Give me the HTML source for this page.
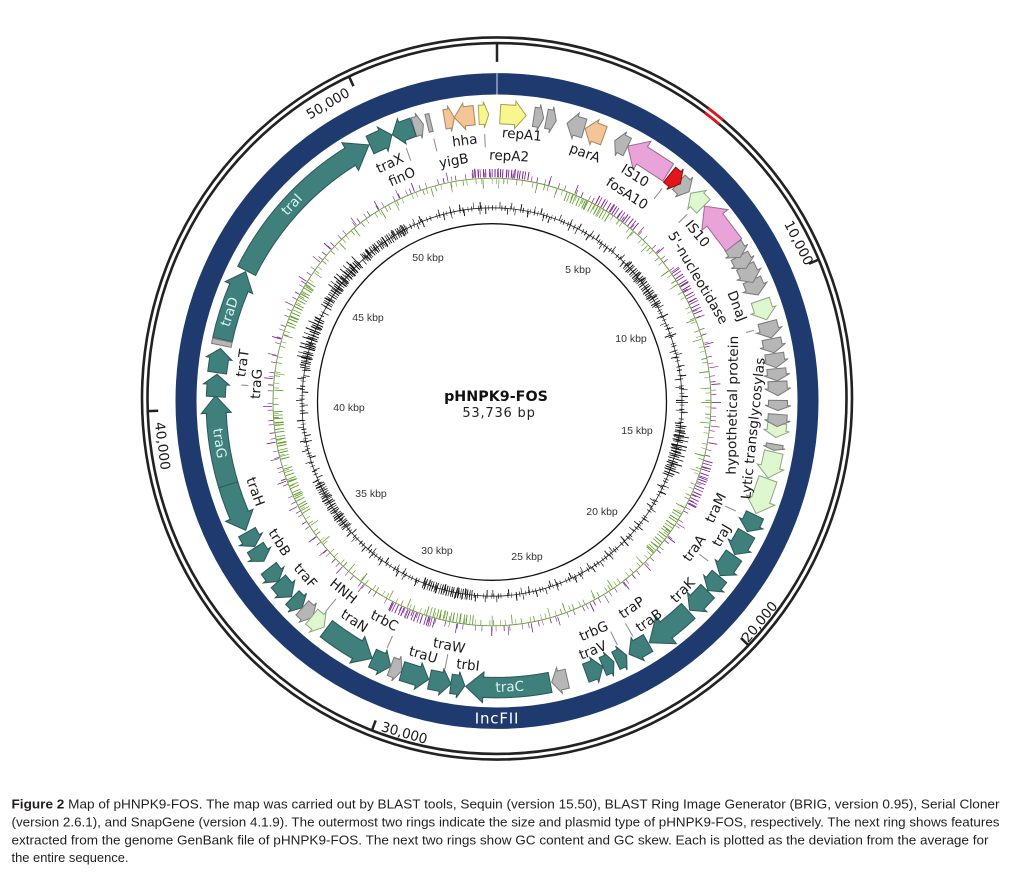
<!DOCTYPE html>
<html>
<head>
<meta charset="utf-8">
<style>
html,body{margin:0;padding:0;background:#fff;}
svg{display:block;}
.t{fill:#3f7f7c;stroke:#2b5957;stroke-width:1;}
.g{fill:#b6b6b6;stroke:#7a7a7a;stroke-width:1;}
.lg{fill:#dff7cf;stroke:#8ea582;stroke-width:1;}
.pk{fill:#e9a3d8;stroke:#9c6a92;stroke-width:1;}
.rd{fill:#e2151b;stroke:#8a1010;stroke-width:1;}
.or{fill:#f4c596;stroke:#a98560;stroke-width:1;}
.ye{fill:#f9f68e;stroke:#a5a25a;stroke-width:1;}
.lb{font-family:"DejaVu Sans","Liberation Sans",sans-serif;font-size:13.5px;fill:#1a1a1a;text-anchor:middle;dominant-baseline:central;}
.il{font-family:"DejaVu Sans","Liberation Sans",sans-serif;font-size:13.5px;fill:#d8f3f2;text-anchor:middle;dominant-baseline:central;}
.rl{font-family:"DejaVu Sans","Liberation Sans",sans-serif;font-size:13.5px;fill:#1a1a1a;text-anchor:middle;dominant-baseline:central;}
.kb{font-family:"Liberation Sans",sans-serif;font-size:10.5px;fill:#333;text-anchor:middle;dominant-baseline:central;}
.ld{stroke:#8a8a8a;stroke-width:1;}
.cap{font-family:"Liberation Sans",sans-serif;font-size:13px;fill:#231f20;}
.bc{fill:none;stroke:#111;stroke-width:10;stroke-dasharray:0.8 1.2 0.6 1.8 1 0.9 0.7 2.1 0.9 1.3 0.6 1.6 1.1 1 0.7 2.4 0.9 1.1 0.8 1.7 0.6 1.4 1 2 0.7 1.2 0.9 1.5 0.6 2.2 1 1.1 0.8 1.9 0.7 1.3 0.9 1.6 0.6 2 1 1.2 0.8 3000;}
.bt{fill:none;stroke:#111;stroke-width:16;stroke-dasharray:0.9 3 0.7 4.5 1 2.5 0.8 5 0.9 3.5 0.7 4 1 6 0.8 3000;}
.pc{fill:none;stroke:#7d1e99;stroke-width:9;stroke-dasharray:0.9 2 0.7 2.8 1 1.6 0.8 3.2 0.9 2.2 0.7 2.6 1 1.8 0.8 3.4 0.9 2.1 0.7 2.9 1 1.7 0.8 3 0.9 2.4 0.7 2.6 0.9 3000;}
.gc{fill:none;stroke:#5e9e2a;stroke-width:9;stroke-dasharray:0.9 2 0.7 2.8 1 1.6 0.8 3.2 0.9 2.2 0.7 2.6 1 1.8 0.8 3.4 0.9 2.1 0.7 2.9 1 1.7 0.8 3 0.9 2.4 0.7 2.6 0.9 3000;}
</style>
</head>
<body>
<svg width="1017" height="890" viewBox="0 0 1017 890" xmlns="http://www.w3.org/2000/svg">
<defs>
<path id="s6" d="M-3,-289.5H0V-292L3,-281L0,-270V-272.5H-3Z"/>
<path id="s10" d="M-5,-290.5H0V-294L5,-281L0,-268V-271.5H-5Z"/>
<path id="s12" d="M-6,-290.5H0V-294L6,-281L0,-268V-271.5H-6Z"/>
<path id="s14" d="M-7,-290.5H0V-294L7,-281L0,-268V-271.5H-7Z"/>
<path id="s16" d="M-8,-290.5H0V-294L8,-281L0,-268V-271.5H-8Z"/>
<path id="s18" d="M-9,-290.5H0V-294L9,-281L0,-268V-271.5H-9Z"/>
<path id="s20" d="M-10,-290.5H0V-294L10,-281L0,-268V-271.5H-10Z"/>
<path id="s22" d="M-11,-290.5H1V-294L11,-281L1,-268V-271.5H-11Z"/>
<path id="s24" d="M-12,-290.5H2V-294L12,-281L2,-268V-271.5H-12Z"/>
<path id="s26" d="M-13,-290.5H2V-294.5L13,-281L2,-267.5V-271.5H-13Z"/>
<path id="s28" d="M-14,-290.5H3V-294.5L14,-281L3,-267.5V-271.5H-14Z"/>
<path id="s36" d="M-18,-290.5H4V-296L18,-281L4,-266V-271.5H-18Z"/>
<path id="s48" d="M-24,-291H7V-297.5L24,-281L7,-264.5V-271H-24Z"/>
</defs>

<!-- OUTER SIZE RING -->
<g transform="translate(497,398.5) scale(1,1.017)">
  <circle r="355" fill="none" stroke="#222" stroke-width="2.6"/>
  <circle r="349.5" fill="none" stroke="#222" stroke-width="2.6"/>
  <circle r="355" fill="none" stroke="#e0151b" stroke-width="2.8" stroke-dasharray="18.6 3000" transform="rotate(-53.5)"/>
  <circle r="349.5" fill="none" stroke="#e0151b" stroke-width="2.8" stroke-dasharray="18.3 3000" transform="rotate(-53.5)"/>
  <g stroke="#222" stroke-width="2.5">
    <line x1="0" y1="-349" x2="0" y2="-331"/>
    <line x1="0" y1="-349" x2="0" y2="-339" transform="rotate(66.99)"/>
    <line x1="0" y1="-349" x2="0" y2="-339" transform="rotate(133.98)"/>
    <line x1="0" y1="-349" x2="0" y2="-339" transform="rotate(200.97)"/>
    <line x1="0" y1="-349" x2="0" y2="-339" transform="rotate(267.96)"/>
    <line x1="0" y1="-349" x2="0" y2="-339" transform="rotate(334.95)"/>
  </g>
</g>

<!-- BRIG RINGS -->
<g transform="translate(492,402) scale(1,1.022)">
  <!-- GC skew -->
  <circle r="219" fill="none" stroke="#6b9a3a" stroke-width="0.9"/>
  <circle r="216" fill="none" stroke="#5e9e2a" stroke-width="5" stroke-dasharray="0.6 4 0.5 6.5 0.8 3 0.6 8.5 0.7 5 0.5 10"/>
  <circle r="213.5" fill="none" stroke="#5e9e2a" stroke-width="9" stroke-dasharray="0.8 19 0.7 31 0.9 15 0.6 37"/>
  <circle r="222" fill="none" stroke="#7d1e99" stroke-width="5" stroke-dasharray="0.6 5 0.8 7.5 0.5 3.5 0.7 9.5 0.6 6 0.5 12"/>
  <circle r="224.5" fill="none" stroke="#7d1e99" stroke-width="9" stroke-dasharray="0.8 23 0.6 16 0.9 35 0.7 27"/>
  <circle r="224" fill="none" stroke="#7d1e99" stroke-width="8" transform="rotate(265)" stroke-dasharray="1 1.5 0.8 2 1.2 1 0.7 2.5 1 1.2 0.9 3 1.1 1.4 0.8 2 1 1.6 0.7 2.2 1 1.3 0.9 2.8 1.2 1 0.8 2 1 1.5 0.7 3 1 1.2 0.9 2 1 1.5 0.8 2.4 1 3000"/>
  <circle r="224" class="pc" transform="rotate(-35)"/>
  <circle r="224" class="pc" transform="rotate(15)"/>
  <circle r="224" class="pc" transform="rotate(105)"/>
  <circle r="224" class="pc" transform="rotate(-62)"/>
  <circle r="214" class="gc" transform="rotate(165)"/>
  <circle r="214" class="gc" transform="rotate(150)"/>
  <circle r="214" class="gc" transform="rotate(95)"/>
  <circle r="214" class="gc" transform="rotate(-70)"/>
  <circle r="214" class="gc" transform="rotate(30)"/>
  <circle r="214" class="gc" transform="rotate(200)"/>
  <!-- GC content -->
  <circle r="190" fill="none" stroke="#222" stroke-width="0.8"/>
  <circle r="190" fill="none" stroke="#111" stroke-width="5" stroke-dasharray="0.6 2.2 0.5 3.6 0.8 2.7 0.5 5.4 0.7 2.5 0.9 4.3 0.5 3.1 0.7 6.2 0.6 1.9 0.8 3.8"/>
  <circle r="193" fill="none" stroke="#111" stroke-width="6" stroke-dasharray="0.7 9 0.9 13 0.6 6 1 19 0.7 11"/>
  <circle r="187" fill="none" stroke="#111" stroke-width="6" stroke-dasharray="0.8 7 0.6 12 1 15 0.7 5 0.9 21"/>
  <circle r="190" class="bc" transform="rotate(190)"/>
  <circle r="190" class="bc" transform="rotate(210)"/>
  <circle r="190" class="bc" transform="rotate(228)"/>
  <circle r="190" class="bc" transform="rotate(7)"/>
  <circle r="190" class="bc" transform="rotate(96)"/>
  <circle r="190" class="bc" transform="rotate(-45)"/>
  <circle r="190" class="bc" transform="rotate(140)"/>
  <circle r="192" class="bt" transform="rotate(193)"/>
  <circle r="192" class="bt" transform="rotate(10)"/>
  <circle r="192" class="bt" transform="rotate(215)"/>
  <!-- inner circle -->
  <circle r="174.5" fill="none" stroke="#111" stroke-width="1.3"/>
</g>

<!-- kbp labels -->
<text class="kb" x="428" y="258">50 kbp</text>
<text class="kb" x="578" y="270">5 kbp</text>
<text class="kb" x="368" y="318">45 kbp</text>
<text class="kb" x="631" y="339">10 kbp</text>
<text class="kb" x="349" y="408">40 kbp</text>
<text class="kb" x="637" y="431">15 kbp</text>
<text class="kb" x="371" y="494">35 kbp</text>
<text class="kb" x="602" y="512">20 kbp</text>
<text class="kb" x="437" y="551">30 kbp</text>
<text class="kb" x="527" y="557">25 kbp</text>

<!-- center title -->
<text x="496" y="397" font-family="DejaVu Sans, Liberation Sans, sans-serif" font-weight="bold" font-size="14.3" fill="#111" text-anchor="middle" dominant-baseline="central">pHNPK9-FOS</text>
<text x="499" y="413.5" font-family="DejaVu Sans, Liberation Sans, sans-serif" font-size="13" letter-spacing="0.8" fill="#222" text-anchor="middle" dominant-baseline="central">53,736 bp</text>

<!-- GENE / NAVY GROUP -->
<g transform="translate(497,401) scale(1,1.02)">
  <!-- navy band -->
  <circle r="311" fill="none" stroke="#1e3a6e" stroke-width="21"/>
  <line x1="0" y1="-300.5" x2="0" y2="-321.5" stroke="#b9c3d6" stroke-width="1.2"/>
  <text x="0" y="311" font-family="DejaVu Sans, Liberation Sans, sans-serif" font-size="15" letter-spacing="0.8" fill="#fff" text-anchor="middle" dominant-baseline="central">IncFII</text>

  <!-- size labels -->
  <text class="rl" transform="rotate(329.9)" x="0" y="-336.5">50,000</text>
  <text class="rl" transform="rotate(62.8)" x="0" y="-338.6">10,000</text>
  <text class="rl" transform="rotate(-50.5)" x="0" y="341">20,000</text>
  <text class="rl" transform="rotate(15.9)" x="0" y="339">30,000</text>
  <text class="rl" transform="rotate(82.5)" x="0" y="338">40,000</text>

  <!-- big arrows -->
  <!-- traD -->
  <circle r="281" fill="none" stroke="#2b5957" stroke-width="21" stroke-dasharray="53.9 3000" transform="rotate(192.3)"/>
  <circle r="281" fill="none" stroke="#3f7f7c" stroke-width="19" stroke-dasharray="53.9 3000" transform="rotate(192.5)"/>
  <path class="t" d="M-0.5,-290.5H0V-296L17,-281L0,-266V-271.5H-0.5" transform="rotate(293.3)"/>
  <!-- traI -->
  <circle r="281" fill="none" stroke="#2b5957" stroke-width="21" stroke-dasharray="155 3000" transform="rotate(206.9)"/>
  <circle r="281" fill="none" stroke="#3f7f7c" stroke-width="19" stroke-dasharray="155 3000" transform="rotate(207.1)"/>
  <path class="t" d="M-0.5,-290.5H0V-297L22,-281L0,-265V-271.5H-0.5" transform="rotate(328.5)"/>
  <!-- traG / traH -->
  <circle r="281" fill="none" stroke="#2b5957" stroke-width="21" stroke-dasharray="103.5 3000" transform="rotate(156.5)"/>
  <circle r="281" fill="none" stroke="#3f7f7c" stroke-width="19" stroke-dasharray="103.5 3000" transform="rotate(156.5)"/>
  <path class="t" d="M-0.5,-290.5H0V-296L17,-281L0,-266V-271.5H-0.5" transform="rotate(267.6)"/>
  <path class="t" d="M0.5,-290.5H0V-296L-16,-281L0,-266V-271.5H0.5" transform="rotate(246.5)"/>
  <line x1="0" y1="-291" x2="0" y2="-271" stroke="#2b5957" stroke-width="1" transform="rotate(253)"/>
  <!-- traN -->
  <circle r="281" fill="none" stroke="#2b5957" stroke-width="21" stroke-dasharray="37.8 3000" transform="rotate(119.8)"/>
  <circle r="281" fill="none" stroke="#3f7f7c" stroke-width="19" stroke-dasharray="37.8 3000" transform="rotate(119.6)"/>
  <path class="t" d="M0.5,-290.5H0V-296L-17,-281L0,-266V-271.5H0.5" transform="rotate(209.8)"/>
  <!-- traC -->
  <circle r="281" fill="none" stroke="#2b5957" stroke-width="21" stroke-dasharray="67.7 3000" transform="rotate(79)"/>
  <circle r="281" fill="none" stroke="#3f7f7c" stroke-width="19" stroke-dasharray="67.7 3000" transform="rotate(79.2)"/>
  <path class="t" d="M-0.5,-290.5H0V-296L17.6,-281L0,-266V-271.5H-0.5" transform="rotate(182.8)"/>
  <!-- traB -->
  <circle r="281" fill="none" stroke="#2b5957" stroke-width="21" stroke-dasharray="29.4 3000" transform="rotate(47)"/>
  <circle r="281" fill="none" stroke="#3f7f7c" stroke-width="19" stroke-dasharray="29.4 3000" transform="rotate(47.2)"/>
  <path class="t" d="M-0.5,-290.5H0V-298L21,-281L0,-264V-271.5H-0.5" transform="rotate(143)"/>

  <!-- small arrows -->
  <rect class="g" x="-2.5" y="-291" width="5" height="20" transform="rotate(281.7)"/>
  <use href="#s24" class="t" transform="rotate(278.1)"/>
  <use href="#s22" class="t" transform="rotate(273.1)"/>
  <use href="#s16" class="t" transform="rotate(241.15) scale(-1,1)"/>
  <use href="#s16" class="t" transform="rotate(237.65) scale(-1,1)"/>
  <use href="#s16" class="t" transform="rotate(232.65) scale(-1,1)"/>
  <use href="#s20" class="t" transform="rotate(229) scale(-1,1)"/>
  <use href="#s14" class="t" transform="rotate(225.3) scale(-1,1)"/>
  <use href="#s14" class="g" transform="rotate(222.4) scale(-1,1)"/>
  <use href="#s16" class="lg" transform="rotate(219.6) scale(-1,1)"/>
  <use href="#s20" class="t" transform="rotate(204.25) scale(-1,1)"/>
  <use href="#s12" class="g" transform="rotate(201) scale(-1,1)"/>
  <use href="#s28" class="t" transform="rotate(196.9) scale(-1,1)"/>
  <use href="#s22" class="t" transform="rotate(191.65) scale(-1,1)"/>
  <use href="#s14" class="t" transform="rotate(188) scale(-1,1)"/>
  <use href="#s16" class="g" transform="rotate(167.15)"/>
  <use href="#s18" class="t" transform="rotate(159.75) scale(-1,1)"/>
  <use href="#s12" class="t" transform="rotate(156.65) scale(-1,1)"/>
  <use href="#s12" class="t" transform="rotate(153.75) scale(-1,1)"/>
  <use href="#s22" class="t" transform="rotate(149.75)"/>
  <use href="#s26" class="t" transform="rotate(134.15)"/>
  <use href="#s18" class="t" transform="rotate(129.55)"/>
  <use href="#s24" class="t" transform="rotate(125.05)"/>
  <use href="#s24" class="t" transform="rotate(119.9)"/>
  <use href="#s18" class="t" transform="rotate(115.25)"/>
  <use href="#s36" class="lg" transform="rotate(109.4)"/>
  <use href="#s26" class="lg" transform="rotate(102.9)"/>
  <use href="#s6" class="g" transform="rotate(99.3)"/>
  <use href="#s14" class="lg" transform="rotate(95.9)"/>
  <use href="#s12" class="g" transform="rotate(93.9)"/>
  <use href="#s10" class="g" transform="rotate(90.9)"/>
  <use href="#s14" class="g" transform="rotate(87.5)"/>
  <use href="#s12" class="g" transform="rotate(84.75)"/>
  <use href="#s14" class="g" transform="rotate(81.9)"/>
  <use href="#s14" class="g" transform="rotate(78.9)"/>
  <use href="#s16" class="g" transform="rotate(75.65)"/>
  <use href="#s20" class="lg" transform="rotate(71.5)"/>
  <use href="#s16" class="g" transform="rotate(66.65)"/>
  <use href="#s18" class="g" transform="rotate(63.75)"/>
  <use href="#s14" class="g" transform="rotate(61)"/>
  <use href="#s14" class="g" transform="rotate(58.5)"/>
  <use href="#s48" class="pk" transform="rotate(52.25) scale(-1,1)"/>
  <use href="#s18" class="lg" transform="rotate(45.4) scale(-1,1)"/>
  <use href="#s14" class="g" transform="rotate(41.7)"/>
  <use href="#s14" class="rd" transform="rotate(39.3)"/>
  <use href="#s48" class="pk" transform="rotate(32.5) scale(-1,1)"/>
  <use href="#s14" class="g" transform="rotate(26.2) scale(-1,1)"/>
  <use href="#s20" class="or" transform="rotate(20.3) scale(-1,1)"/>
  <use href="#s18" class="g" transform="rotate(16.25) scale(-1,1)"/>
  <use href="#s10" class="g" transform="rotate(11.15)"/>
  <use href="#s10" class="g" transform="rotate(8.55)"/>
  <use href="#s26" class="ye" transform="rotate(3.3)"/>
  <use href="#s10" class="ye" transform="rotate(357.3)"/>
  <use href="#s20" class="or" transform="rotate(353.3) scale(-1,1)"/>
  <use href="#s10" class="or" transform="rotate(350.25)"/>
  <rect class="g" x="-2" y="-290" width="4" height="18" transform="rotate(346)"/>
  <use href="#s10" class="g" transform="rotate(343.8)"/>
  <use href="#s22" class="t" transform="rotate(340.4) scale(-1,1)"/>
  <use href="#s24" class="t" transform="rotate(335.6)"/>

  <!-- labels inside arrows -->
  <text class="il" transform="rotate(313.2)" x="0" y="-281">traI</text>
  <text class="il" transform="rotate(288.1)" x="0" y="-281">traD</text>
  <text class="il" transform="rotate(81.5)" x="0" y="281">traG</text>
  <text class="il" transform="rotate(-2.6)" x="0" y="281">traC</text>

  <!-- leader lines -->
  <g class="ld">
    <line x1="0" y1="-251" x2="0" y2="-264" transform="rotate(339.9)"/>
    <line x1="0" y1="-252" x2="0" y2="-265" transform="rotate(346.2)"/>
    <line x1="0" y1="-249" x2="0" y2="-262" transform="rotate(357.3)"/>
    <line x1="0" y1="-253" x2="0" y2="-266" transform="rotate(38.4)"/>
    <line x1="0" y1="-252" x2="0" y2="-264" transform="rotate(46.1)"/>
    <line x1="0" y1="-258" x2="0" y2="-266" transform="rotate(74.9)"/>
    <line x1="0" y1="-250" x2="0" y2="-262" transform="rotate(114.3)"/>
    <line x1="0" y1="-252" x2="0" y2="-263" transform="rotate(126.6)"/>
    <line x1="0" y1="-253" x2="0" y2="-268" transform="rotate(149.5)"/>
    <line x1="0" y1="-253" x2="0" y2="-268" transform="rotate(153.3)"/>
    <line x1="0" y1="-253" x2="0" y2="-268" transform="rotate(191.2)"/>
    <line x1="0" y1="-253" x2="0" y2="-266" transform="rotate(204.4)"/>
    <line x1="0" y1="-252" x2="0" y2="-268" transform="rotate(219.7)"/>
    <line x1="0" y1="-249" x2="0" y2="-256" transform="rotate(273.5)"/>
  </g>

  <!-- gene labels: upper -->
  <text class="lb" transform="rotate(335.3)" x="0" y="-256">traX</text>
  <text class="lb" transform="rotate(336.6)" x="0" y="-239">finO</text>
  <text class="lb" transform="rotate(352.8)" x="0" y="-257">hha</text>
  <text class="lb" transform="rotate(349.6)" x="0" y="-239">yigB</text>
  <text class="lb" transform="rotate(5.45)" x="0" y="-262">repA1</text>
  <text class="lb" transform="rotate(2.9)" x="0" y="-240">repA2</text>
  <text class="lb" transform="rotate(19.9)" x="0" y="-258">parA</text>
  <text class="lb" transform="rotate(32)" x="0" y="-260">IS10</text>
  <text class="lb" transform="rotate(32.6)" x="0" y="-241">fosA10</text>
  <text class="lb" transform="rotate(50.7)" x="0" y="-258.5">IS10</text>
  <text class="lb" transform="rotate(59)" x="0" y="-234">5'-nucleotidase</text>
  <text class="lb" transform="rotate(68.8)" x="0" y="-257">DnaJ</text>
  <text class="lb" transform="rotate(274)" x="0" y="-240.6">traG</text>
  <text class="lb" transform="rotate(278.3)" x="0" y="-256.7">traT</text>

  <!-- gene labels: lower -->
  <text class="lb" transform="rotate(-89)" x="0" y="236">hypothetical protein</text>
  <text class="lb" transform="rotate(-84)" x="0" y="258">Lytic transglycosylas</text>
  <text class="lb" transform="rotate(-64.4)" x="0" y="243">traM</text>
  <text class="lb" transform="rotate(-59.6)" x="0" y="261">traJ</text>
  <text class="lb" transform="rotate(-53.8)" x="0" y="245">traA</text>
  <text class="lb" transform="rotate(-45)" x="0" y="263">traK</text>
  <text class="lb" transform="rotate(-33.6)" x="0" y="243.8">traP</text>
  <text class="lb" transform="rotate(-35.2)" x="0" y="264">traB</text>
  <text class="lb" transform="rotate(-23.2)" x="0" y="246">trbG</text>
  <text class="lb" transform="rotate(-21.4)" x="0" y="263">traV</text>
  <text class="lb" transform="rotate(6.4)" x="0" y="261">trbI</text>
  <text class="lb" transform="rotate(11.3)" x="0" y="245">traW</text>
  <text class="lb" transform="rotate(16.5)" x="0" y="260">traU</text>
  <text class="lb" transform="rotate(27.6)" x="0" y="243.5">trbC</text>
  <text class="lb" transform="rotate(33.5)" x="0" y="259">traN</text>
  <text class="lb" transform="rotate(39.5)" x="0" y="242">HNH</text>
  <text class="lb" transform="rotate(48.2)" x="0" y="257.5">traF</text>
  <text class="lb" transform="rotate(57.5)" x="0" y="258.5">trbB</text>
  <text class="lb" transform="rotate(69.8)" x="0" y="258">traH</text>
</g>

<!-- CAPTION -->
<text class="cap" x="11.5" y="808.5" textLength="988" lengthAdjust="spacingAndGlyphs"><tspan font-weight="bold">Figure 2</tspan> Map of pHNPK9-FOS. The map was carried out by BLAST tools, Sequin (version 15.50), BLAST Ring Image Generator (BRIG, version 0.95), Serial Cloner</text>
<text class="cap" x="11.5" y="826.7" textLength="988" lengthAdjust="spacingAndGlyphs">(version 2.6.1), and SnapGene (version 4.1.9). The outermost two rings indicate the size and plasmid type of pHNPK9-FOS, respectively. The next ring shows features</text>
<text class="cap" x="11.5" y="844.5" textLength="977" lengthAdjust="spacingAndGlyphs">extracted from the genome GenBank file of pHNPK9-FOS. The next two rings show GC content and GC skew. Each is plotted as the deviation from the average for</text>
<text class="cap" x="11.5" y="862.2" textLength="117" lengthAdjust="spacingAndGlyphs">the entire sequence.</text>
</svg>
</body>
</html>
